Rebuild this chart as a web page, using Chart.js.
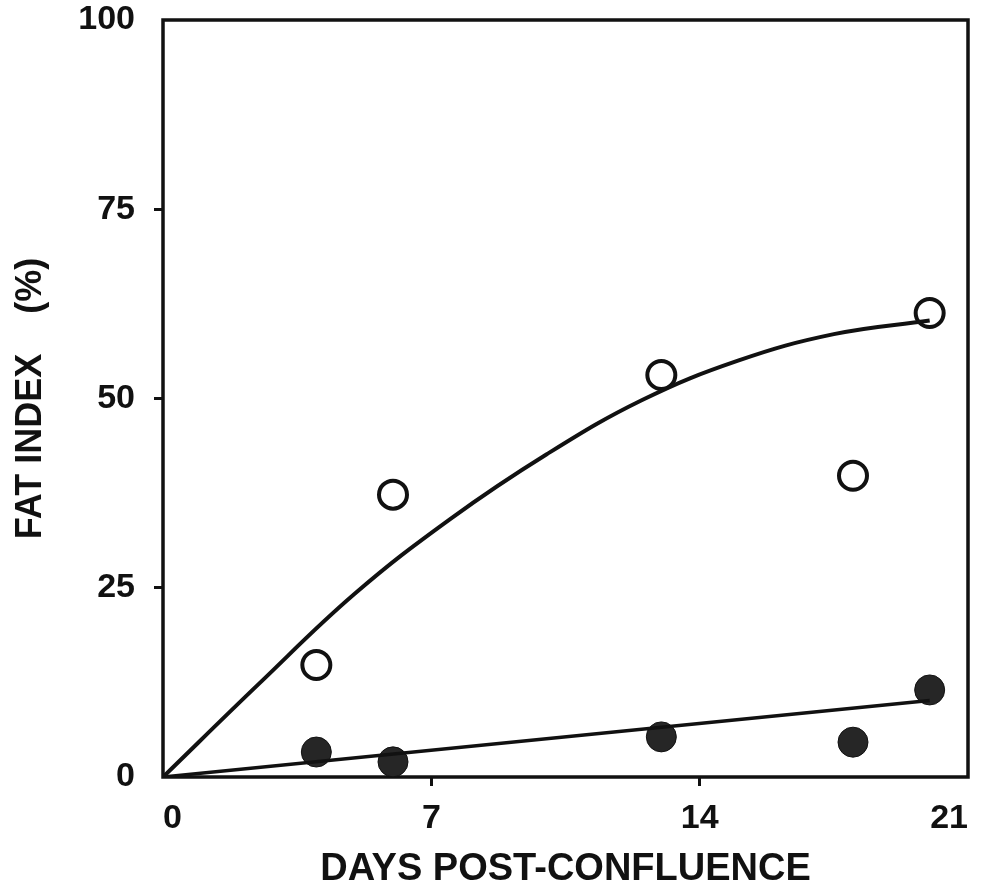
<!DOCTYPE html>
<html>
<head>
<meta charset="utf-8">
<title>Fat index vs days post-confluence</title>
<script src="https://cdn.jsdelivr.net/npm/chart.js@4.4.1/dist/chart.umd.min.js"></script>
<style>
  html, body { margin: 0; padding: 0; background: #fff; }
  #wrap { width: 981px; height: 895px; }
</style>
</head>
<body>
<div id="wrap"><canvas id="fatChart" width="981" height="895"></canvas></div>
<script>
// measured points (days post-confluence, fat index %)
const days = [4, 6, 13, 18, 20];
const fatOpen = [14.8, 37.3, 53.1, 39.8, 61.3];
const fatFilled = [3.3, 2.0, 5.3, 4.6, 11.5];

// hand-fitted curves drawn through the data
const curveDays = [0, 2.5, 5, 7.5, 10, 12.5, 15, 17.5, 20];
const curveOpen = [0, 12.3, 24.2, 34.1, 42.6, 49.8, 55.0, 58.5, 60.3];
const lineDays = [0, 20];
const lineFilled = [0, 10.1];

const xTicks = [0, 7, 14, 21];
const yTicks = [0, 25, 50, 75, 100];

const toXY = (xs, ys) => xs.map((x, i) => ({ x: x, y: ys[i] }));

const FONT = "'Liberation Sans', Arial, sans-serif";
const INK = "#111";

// box around the plot area
const frame = {
  id: "frame",
  beforeDatasetsDraw(chart) {
    const { ctx, chartArea: a } = chart;
    ctx.save();
    ctx.strokeStyle = INK;
    ctx.lineWidth = 3.5;
    ctx.lineJoin = "miter";
    ctx.strokeRect(a.left, a.top, a.right - a.left, a.bottom - a.top);
    ctx.restore();
  },
};

new Chart(document.getElementById("fatChart"), {
  type: "scatter",
  data: {
    datasets: [
      {
        label: "fit open",
        data: toXY(curveDays, curveOpen),
        showLine: true,
        borderColor: INK,
        borderWidth: 4,
        pointRadius: 0,
        tension: 0.4,
      },
      {
        label: "fit filled",
        data: toXY(lineDays, lineFilled),
        showLine: true,
        borderColor: INK,
        borderWidth: 3.5,
        pointRadius: 0,
      },
      {
        label: "open",
        data: toXY(days, fatOpen),
        pointRadius: 14,
        pointBorderWidth: 4,
        pointBorderColor: INK,
        pointBackgroundColor: "#fff",
      },
      {
        label: "filled",
        data: toXY(days, fatFilled),
        pointRadius: 15,
        pointBorderWidth: 1,
        pointBorderColor: INK,
        pointBackgroundColor: "#262626",
      },
    ],
  },
  options: {
    responsive: false,
    animation: false,
    events: [],
    layout: { autoPadding: false, padding: { top: 20, right: 13, left: 0, bottom: 0 } },
    plugins: { legend: { display: false }, tooltip: { enabled: false } },
    scales: {
      x: {
        type: "linear",
        min: 0,
        max: 21,
        afterBuildTicks: (s) => { s.ticks = xTicks.map((v) => ({ value: v })); },
        afterFit: (s) => { s.height = 118; s.paddingLeft = 0; s.paddingRight = 0; },
        border: { display: false },
        grid: {
          drawOnChartArea: false,
          tickLength: 9,
          tickWidth: 3,
          tickColor: (c) => (c.tick && (c.tick.value === 7 || c.tick.value === 14) ? INK : "rgba(0,0,0,0)"),
        },
        ticks: {
          color: INK,
          padding: 12,
          align: "inner",
          maxRotation: 0,
          font: { family: FONT, size: 34, weight: "bold" },
        },
        title: {
          display: true,
          text: "DAYS POST-CONFLUENCE",
          color: INK,
          padding: { top: 5, bottom: 3 },
          font: { family: FONT, size: 38, weight: "bold" },
        },
      },
      y: {
        min: 0,
        max: 100,
        afterBuildTicks: (s) => { s.ticks = yTicks.map((v) => ({ value: v })); },
        afterFit: (s) => { s.width = 163; s.paddingTop = 0; s.paddingBottom = 0; },
        border: { display: false },
        grid: {
          drawOnChartArea: false,
          tickLength: 9,
          tickWidth: 3,
          tickColor: (c) => (c.tick && c.tick.value > 0 && c.tick.value < 100 ? INK : "rgba(0,0,0,0)"),
        },
        ticks: {
          color: INK,
          padding: 19,
          font: { family: FONT, size: 34, weight: "bold" },
        },
        title: {
          display: true,
          text: "FAT INDEX    (%)",
          color: INK,
          padding: { top: 9, bottom: 0 },
          font: { family: FONT, size: 36, weight: "bold" },
        },
      },
    },
  },
  plugins: [frame],
});
</script>
</body>
</html>
